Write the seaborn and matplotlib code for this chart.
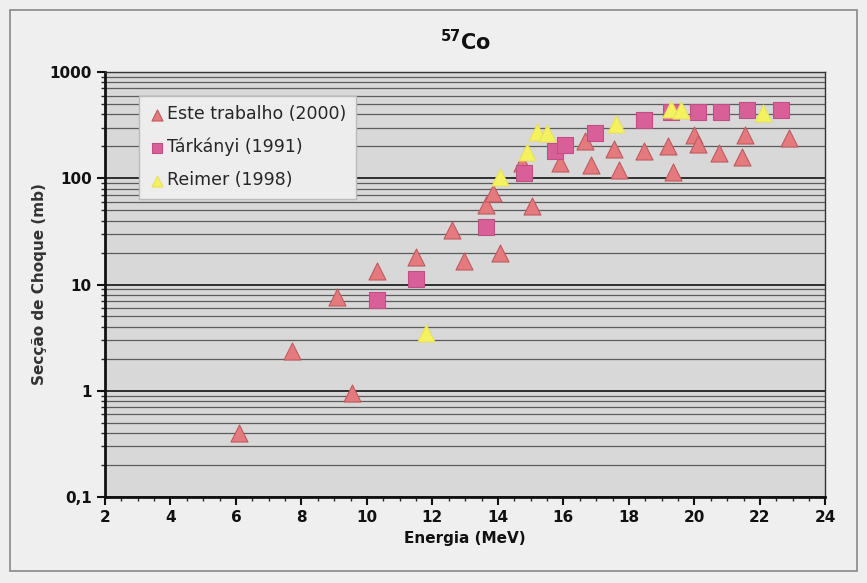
import numpy as np
import pandas as pd
import matplotlib
matplotlib.use("Agg")
import matplotlib.pyplot as plt
import seaborn as sns
from matplotlib.ticker import FixedLocator, LogLocator, NullFormatter, MultipleLocator

# Este trabalho (2000)
este_x = [6.1, 7.7, 9.1, 9.55, 10.3, 11.5, 12.6, 12.95, 13.65, 13.85, 14.05, 14.75, 15.05,
          15.9, 16.65, 16.85, 17.55, 17.7, 18.45, 19.2, 19.35, 20.0, 20.1, 20.75, 21.45, 21.55, 22.9]
este_y = [0.40, 2.35, 7.7, 0.95, 13.5, 18.3, 32.7, 16.5, 56, 72, 19.9, 138, 55,
          138, 225, 133, 188, 120, 182, 201, 115, 258, 208, 172, 160, 255, 238]

# Tárkányi (1991)
tark_x = [10.3, 11.5, 13.65, 14.8, 15.75, 16.05, 16.95, 18.45, 19.3, 20.1, 20.8, 21.6, 22.65]
tark_y = [7.2, 11.2, 35, 112, 182, 205, 265, 353, 420, 424, 424, 440, 440]

# Reimer (1998)
reim_x = [11.8, 14.05, 14.9, 15.2, 15.5, 17.6, 19.3, 19.6, 22.1]
reim_y = [3.5, 103, 175, 272, 265, 325, 445, 440, 408]

labels = ["Este trabalho (2000)", "Tárkányi (1991)", "Reimer (1998)"]
xticks = [2, 4, 6, 8, 10, 12, 14, 16, 18, 20, 22, 24]
yticks = [0.1, 1, 10, 100, 1000]
ytick_labels = ["0,1", "1", "10", "100", "1000"]

df = pd.concat([
    pd.DataFrame({"E": este_x, "S": este_y, "serie": labels[0]}),
    pd.DataFrame({"E": tark_x, "S": tark_y, "serie": labels[1]}),
    pd.DataFrame({"E": reim_x, "S": reim_y, "serie": labels[2]}),
], ignore_index=True)

sns.set_theme(style="white")
plt.rcParams['font.family'] = ['DejaVu Sans']

fig = plt.figure(figsize=(8.67, 5.83), dpi=100, facecolor="#efefef")
ax = fig.add_axes([0.121, 0.1475, 0.831, 0.729])
ax.set_facecolor("#d8d8d8")

palette = {labels[0]: "#e57a7e", labels[1]: "#d95f98", labels[2]: "#f4f25e"}
markers = {labels[0]: "^", labels[1]: "s", labels[2]: "^"}
edges = {labels[0]: "#c05a5f", labels[1]: "#c04f85", labels[2]: "#e8e060"}

ax.set_yscale("log")
ax.set_xlim(2, 24)
ax.set_ylim(0.1, 1000)

ax.yaxis.set_major_locator(FixedLocator(yticks))
ax.yaxis.set_minor_locator(LogLocator(base=10, subs=np.arange(2, 10)))
ax.yaxis.set_minor_formatter(NullFormatter())
ax.grid(True, which="major", axis="y", color="#222222", linewidth=1.3)
ax.grid(True, which="minor", axis="y", color="#333333", linewidth=0.9, alpha=0.75)
ax.grid(False, axis="x")
ax.set_axisbelow(True)

for lab in labels:
    sub = df[df["serie"] == lab]
    sns.scatterplot(data=sub, x="E", y="S", ax=ax, color=palette[lab], marker=markers[lab],
                    s=150 if lab != labels[1] else 120, edgecolor=edges[lab], linewidth=0.8,
                    label=lab, zorder=3)

ax.set_xticks(xticks)
ax.xaxis.set_minor_locator(MultipleLocator(0.5))
ax.set_yticks(yticks)
ax.set_yticklabels(ytick_labels)
ax.tick_params(axis="both", which="major", labelsize=11, length=6, width=1.5,
               direction="out", colors="#111111", bottom=True, left=True)
ax.tick_params(axis="both", which="minor", length=3, width=1.0, direction="out",
               bottom=True, left=True)
for t in ax.get_xticklabels() + ax.get_yticklabels():
    t.set_fontweight("bold")

for side in ["left", "bottom"]:
    ax.spines[side].set_color("#111111")
    ax.spines[side].set_linewidth(2.0)
for side in ["top", "right"]:
    ax.spines[side].set_color("#333333")
    ax.spines[side].set_linewidth(1.0)

ax.set_xlabel("Energia (MeV)", fontsize=11, fontweight="bold", color="#111111", labelpad=4)
ax.set_ylabel("Secção de Choque (mb)", fontsize=11, fontweight="bold", color="#333333", labelpad=2)
ax.set_title("$^{\\mathbf{57}}$Co", fontsize=15, fontweight="bold", color="#111111", pad=16)

leg = ax.legend(loc="upper left", bbox_to_anchor=(0.035, 0.965), frameon=True, fontsize=12.5,
                handletextpad=0.1, borderpad=0.55, labelspacing=0.85, handlelength=1.0,
                fancybox=False, facecolor="#ededed", edgecolor="#bbbbbb", markerscale=0.65)
leg.get_frame().set_alpha(1.0)

fig.patches.append(plt.Rectangle((0.012, 0.02), 0.976, 0.962, transform=fig.transFigure,
                                 fill=False, edgecolor="#888888", linewidth=1.2))

fig.savefig("out.png", dpi=100, facecolor=fig.get_facecolor())
